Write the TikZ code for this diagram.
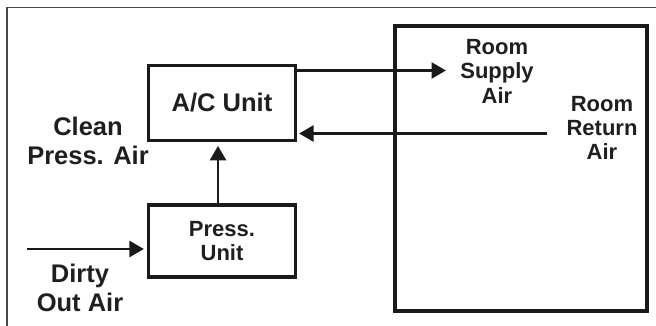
\documentclass[tikz,border=0pt]{standalone}
\usepackage{fontspec}
\setmainfont{Liberation Sans}
\usetikzlibrary{arrows.meta}
\definecolor{ink}{HTML}{1A1A1A}
\definecolor{txt}{HTML}{1F1F1F}
\definecolor{frm}{HTML}{4A4A4A}
\tikzset{
  unitbox/.style={draw=ink, line width=3.2pt, inner sep=0pt, fill=white},
  roombox/.style={draw=ink, line width=3.6pt, inner sep=0pt},
  biglabel/.style={text=txt, align=center, inner sep=0pt, font=\bfseries\fontsize{25.5}{29}\selectfont},
  smalllabel/.style={text=txt, align=center, inner sep=0pt, font=\bfseries\fontsize{22}{24.5}\selectfont},
  arr/.style={draw=ink, line width=2.7pt, -{Triangle[length=14.5pt,width=16pt]}},
}
\begin{document}
\begin{tikzpicture}[x=1pt,y=-1pt]
\useasboundingbox (0,0) rectangle (656,326);
% outer frame (cropped)
\draw[frm, line width=1.1pt] (7,326) -- (7,7.5) -- (656,7.5);
% boxes
\node[roombox, minimum width=251.5pt, minimum height=285pt] (room) at (521,168.5) {};
\node[unitbox, minimum width=147pt, minimum height=74.5pt, biglabel] (ac) at (222,103) {A/C Unit};
\node[unitbox, minimum width=147pt, minimum height=72pt, smalllabel] (press) at (222,241) {Press.\\Unit};
% labels
\node[biglabel] (clean) at (88,140.5) {Clean\\Press. Air};
\node[biglabel] (dirty) at (80,288) {Dirty\\Out Air};
\node[smalllabel] (supply) at (497,71.3) {Room\\Supply\\Air};
\node[smalllabel, font=\bfseries\fontsize{22}{24}\selectfont] (return) at (602,128.3) {Room\\Return\\Air};
% connector ends
\coordinate (sTip) at (446,70.5);
\coordinate (rStart) at (547,133.5);
\coordinate (dStart) at (27,249);
% connectors
\draw[arr] (ac.east |- sTip) -- (sTip);
\draw[arr, shorten >=2pt] (rStart) -- (ac.east |- rStart);
\draw[arr, shorten >=4pt] ([xshift=-4pt]press.north) -- ([xshift=-4pt]ac.south);
\draw[arr, shorten >=3pt] (dStart) -- (press.west |- dStart);
\end{tikzpicture}
\end{document}
